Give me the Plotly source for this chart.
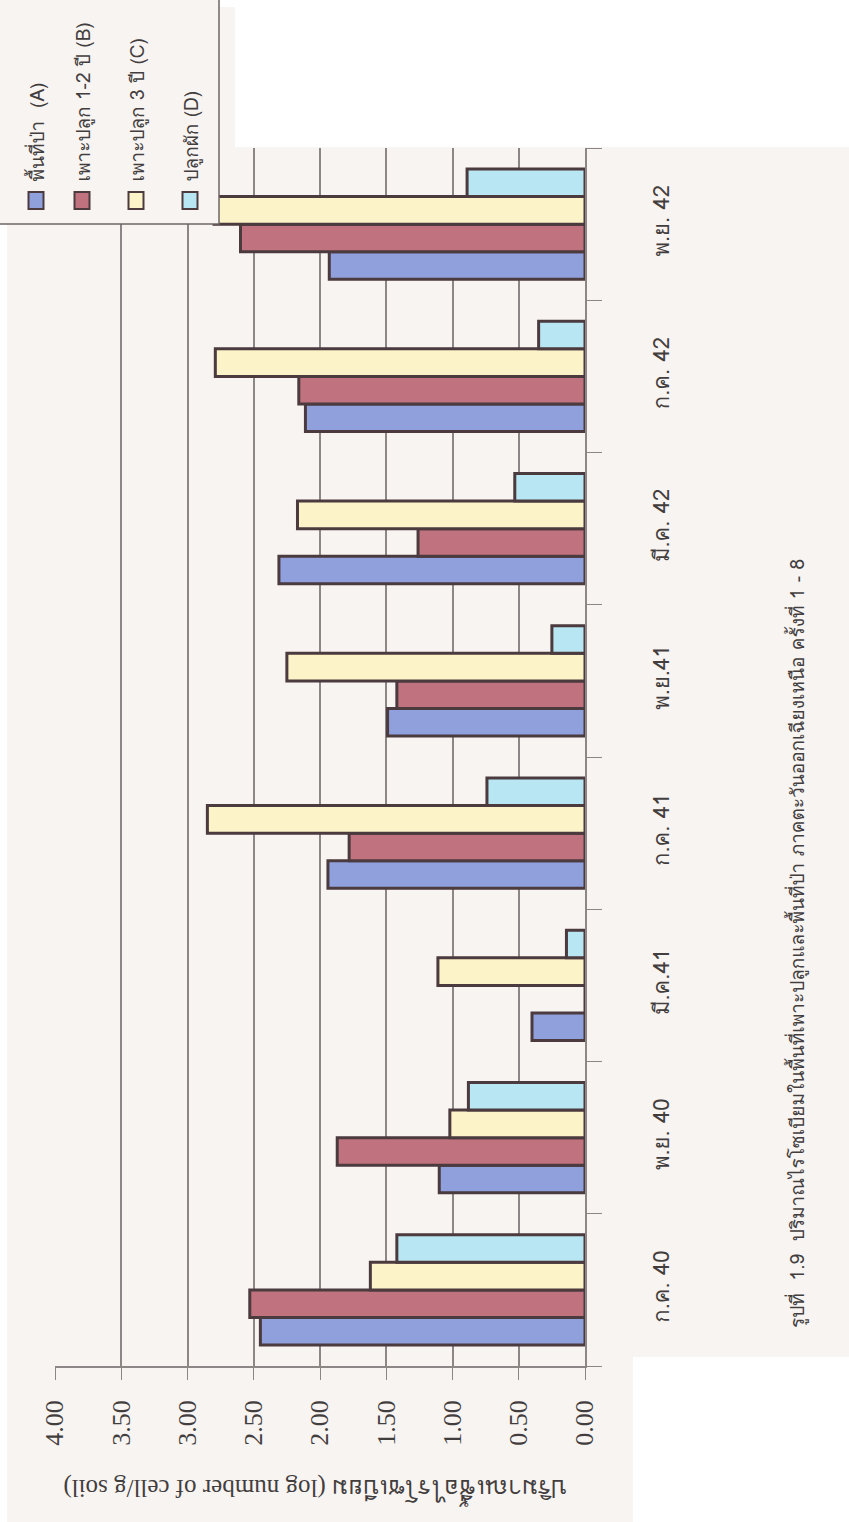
import plotly.graph_objects as go

# Sampling rounds (category axis, bottom to top)
rounds = ["ก.ค. 40", "พ.ย. 40", "มี.ค.41", "ก.ค. 41", "พ.ย.41", "มี.ค. 42", "ก.ค. 42", "พ.ย. 42"]

# Rhizobium counts, log number of cell / g soil
forest_A = [2.45, 1.10, 0.40, 1.94, 1.49, 2.31, 2.11, 1.93]
crop12_B = [2.53, 1.87, 0.00, 1.78, 1.42, 1.26, 2.16, 2.60]
crop3_C = [1.62, 1.02, 1.11, 2.85, 2.25, 2.17, 2.79, 2.80]
veg_D = [1.42, 0.88, 0.14, 0.74, 0.25, 0.53, 0.35, 0.89]

series_names = ["พื้นที่ป่า  (A)", "เพาะปลูก 1-2 ปี (B)", "เพาะปลูก 3 ปี (C)", "ปลูกผัก (D)"]
series_values = [forest_A, crop12_B, crop3_C, veg_D]
series_colors = ["#8fa0dc", "#c0737f", "#fdf3c8", "#b8e6f2"]

value_ticks = [0, 0.5, 1.0, 1.5, 2.0, 2.5, 3.0, 3.5, 4.0]

axis_title = "ปริมาณเชื้อไรโซเบียม (log number of cell/g soil)"
caption = "รูปที่  1.9  ปริมาณไรโซเบียมในพื้นที่เพาะปลูกและพื้นที่ป่า ภาคตะวันออกเฉียงเหนือ ครั้งที่ 1 - 8"

# page geometry (pixels)
WIDTH, HEIGHT = 849, 1522
L, R, T, B = 55, 585, 148, 1366
PW, PH = R - L, B - T


def px(xp):
    return (xp - L) / PW


def py(yp):
    return (B - yp) / PH


PAGE = "#f8f4f2"
INK = "#433e3e"
EDGE = "#4b3a3e"
GRID = "#8c8686"
THAI = "Norasi, Loma, Garuda, 'Tlwg Typo', 'Liberation Serif', serif"
SERIF = "'Liberation Serif', 'DejaVu Serif', serif"

fig = go.Figure()
for name, vals, col in zip(series_names, series_values, series_colors):
    fig.add_trace(go.Bar(
        y=rounds, x=vals, name=name, orientation="h",
        marker=dict(color=col, line=dict(color=EDGE, width=3)),
        showlegend=False,
    ))

shapes = [
    # scanned page tint
    dict(type="rect", xref="paper", yref="paper", layer="below",
         x0=px(7), x1=px(WIDTH + 5), y0=py(7), y1=py(HEIGHT + 5),
         fillcolor=PAGE, line=dict(width=0)),
    dict(type="rect", xref="paper", yref="paper", layer="below",
         x0=px(235), x1=px(WIDTH + 5), y0=py(-5), y1=py(T - 1),
         fillcolor="white", line=dict(width=0)),
    dict(type="rect", xref="paper", yref="paper", layer="below",
         x0=px(633), x1=px(WIDTH + 5), y0=py(1357), y1=py(HEIGHT + 5),
         fillcolor="white", line=dict(width=0)),
    # legend box
    dict(type="rect", xref="paper", yref="paper", layer="above",
         x0=px(-4), x1=px(219), y0=py(-4), y1=py(224),
         fillcolor=PAGE, line=dict(color="#6e6666", width=1.5)),
]

annotations = []
legend_x = [36, 82, 136, 190]
for lx, name, col in zip(legend_x, series_names, series_colors):
    shapes.append(dict(type="rect", xref="paper", yref="paper", layer="above",
                       x0=px(lx - 7.5), x1=px(lx + 7.5), y0=py(192), y1=py(209),
                       fillcolor=col, line=dict(color=EDGE, width=2)))
    annotations.append(dict(xref="paper", yref="paper", x=px(lx + 1), y=py(184),
                            xanchor="center", yanchor="bottom", textangle=-90,
                            showarrow=False, text=name,
                            font=dict(family=THAI, size=19, color=INK)))

annotations.append(dict(xref="paper", yref="paper", x=px(315), y=py(1491),
                        xanchor="center", yanchor="middle", textangle=180,
                        showarrow=False, text=axis_title,
                        font=dict(family=SERIF, size=25, color=INK)))
annotations.append(dict(xref="paper", yref="paper", x=px(797), y=py(944),
                        xanchor="center", yanchor="middle", textangle=-90,
                        showarrow=False, text=caption,
                        font=dict(family=THAI, size=19, color=INK)))

fig.update_layout(
    width=WIDTH, height=HEIGHT,
    margin=dict(l=L, r=WIDTH - R, t=T, b=HEIGHT - B, pad=0),
    paper_bgcolor="white", plot_bgcolor="rgba(0,0,0,0)",
    barmode="group", bargap=0.276, bargroupgap=0,
    shapes=shapes, annotations=annotations,
    xaxis=dict(range=[4, 0], tickvals=value_ticks, tickformat=".2f",
               tickangle=-90, ticks="outside", ticklen=12, tickcolor=GRID,
               showgrid=True, gridcolor=GRID, gridwidth=1.5,
               showline=True, linecolor=GRID, linewidth=1.5,
               zeroline=False, ticklabelstandoff=10,
               tickfont=dict(family=SERIF, size=26, color=INK)),
    yaxis=dict(categoryorder="array", categoryarray=rounds, side="right",
               tickangle=-90, ticks="outside", tickson="boundaries",
               ticklen=15, tickcolor=GRID, showgrid=False,
               showline=True, linecolor=GRID, linewidth=1.5,
               ticklabelstandoff=56,
               tickfont=dict(family=THAI, size=22, color=INK)),
)

fig.write_html("out.html")
